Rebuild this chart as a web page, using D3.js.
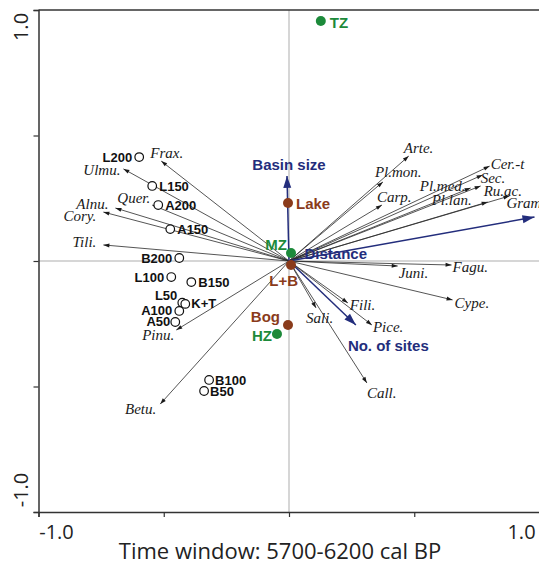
<!DOCTYPE html>
<html><head><meta charset="utf-8">
<script src="https://cdn.jsdelivr.net/npm/d3@7"></script>
<style>html,body{margin:0;padding:0;background:#fff;}</style>
</head><body>
<svg id="chart" width="539" height="564"></svg>
<script>
// ---- Data ----
const siteNames = ["L200","L150","A200","A150","B200","L100","B150","L50","K+T","A100","A50","B100","B50"];
const siteX = [-0.598,-0.546,-0.522,-0.474,-0.438,-0.470,-0.390,-0.426,-0.414,-0.438,-0.454,-0.319,-0.339];
const siteY = [0.414,0.299,0.223,0.127,0.012,-0.064,-0.084,-0.166,-0.171,-0.199,-0.243,-0.474,-0.518];

const speciesNames = ["Frax.","Ulmu.","Quer.","Alnu.","Cory.","Tili.","Pinu.","Betu.","Arte.","Pl.mon.","Carp.","Cer.-t","Sec.","Pl.med.","Ru.ac.","Pl.lan.","Gram.","Juni.","Fagu.","Cype.","Fili.","Pice.","Sali.","Call."];
const speciesX = [-0.510,-0.661,-0.546,-0.693,-0.741,-0.741,-0.450,-0.514,0.478,0.375,0.371,0.801,0.773,0.725,0.765,0.793,0.880,0.434,0.649,0.653,0.235,0.331,0.108,0.311];
const speciesY = [0.398,0.367,0.223,0.211,0.195,0.064,-0.275,-0.570,0.418,0.315,0.223,0.378,0.343,0.291,0.299,0.235,0.259,-0.020,-0.016,-0.155,-0.167,-0.255,-0.187,-0.486];

const envNames = ["Basin size","Distance","No. of sites"];
const envX = [-0.008,0.980,0.267];
const envY = [0.339,0.175,-0.255];

const factorNames = ["Lake","L+B","Bog","TZ","MZ","HZ"];
const factorGroup = ["type","type","type","zone","zone","zone"];
const factorX = [-0.004,0.008,-0.004,0.127,0.008,-0.048];
const factorY = [0.231,-0.016,-0.255,0.956,0.032,-0.291];

const tickValues = [-1,-0.5,0,0.5,1];
const tickLabels = {"-1":"-1.0","1":"1.0"};
const xTitle = "Time window: 5700-6200 cal BP";

// ---- Layout (positions/styles) ----
const siteLabelLayout = {"L200":[-7,5,"end"],"L150":[7,5,"start"],"A200":[7,5,"start"],"A150":[7,5,"start"],
  "B200":[-7,5,"end"],"L100":[-7,5,"end"],"B150":[7,5,"start"],"L50":[-5,-3,"end"],"K+T":[6,4,"start"],
  "A100":[-7,4,"end"],"A50":[-5,4,"end"],"B100":[6,5,"start"],"B50":[6,5,"start"]};
const speciesLabelLayout = {"Frax.":[-11,-3,"start"],"Ulmu.":[-3,6,"end"],"Quer.":[-2,-2,"end"],"Alnu.":[-7,1,"end"],
  "Cory.":[-7,9,"end"],"Tili.":[-7,2,"end"],"Pinu.":[-2,10,"end"],"Betu.":[-4,10,"end"],"Arte.":[-5,-3,"start"],
  "Pl.mon.":[-8,-5,"start"],"Carp.":[-5,-3,"start"],"Cer.-t":[1,3,"start"],"Sec.":[-2,8,"start"],"Pl.med.":[-5,3,"end"],
  "Ru.ac.":[3,10,"start"],"Pl.lan.":[-16,3,"end"],"Gram.":[-3,12,"start"],"Juni.":[1,12,"start"],"Fagu.":[1,7,"start"],
  "Cype.":[2,8,"start"],"Fili.":[2,7,"start"],"Pice.":[1,7,"start"],"Sali.":[-10,15,"start"],"Call.":[0,15,"start"]};
const envLabelLayout = {"Basin size":[2,-6,"middle"],"Distance":[-230,42,"start"],"No. of sites":[-8,26,"start"]};
const factorLabelLayout = {"Lake":[8,6,"start"],"L+B":[7,21,"end"],"Bog":[-8,-3,"end"],"TZ":[9,7,"start"],"MZ":[-4,-3,"end"],"HZ":[-5,7,"end"]};

const NAVY = "#232d7c", BROWN = "#8a3b1b", GREEN = "#1c8a3a";
const factorColor = {type: BROWN, zone: GREEN};

const svg = d3.select("#chart");
const x = d3.scaleLinear().domain([-1,1]).range([38.5,539.5]);
const y = d3.scaleLinear().domain([-1,1]).range([512,10]);

// zero lines
svg.append("line").attr("x1",x(0)).attr("x2",x(0)).attr("y1",y(1)).attr("y2",y(-1)).attr("stroke","#c8c8c8").attr("stroke-width",1.5);
svg.append("line").attr("x1",x(-1)).attr("x2",x(1)).attr("y1",y(0)).attr("y2",y(0)).attr("stroke","#c8c8c8").attr("stroke-width",1.5);

// axes
const xAxis = d3.axisBottom(x).tickValues(tickValues).tickSize(5).tickFormat("");
const yAxis = d3.axisLeft(y).tickValues(tickValues).tickSize(5).tickFormat("");
const gx = svg.append("g").attr("transform",`translate(0,${y(-1)})`).call(xAxis);
const gy = svg.append("g").attr("transform",`translate(${x(-1)},0)`).call(yAxis);
[gx,gy].forEach(g=>{g.select(".domain").attr("stroke","#333").attr("stroke-width",1.5);g.selectAll(".tick line").attr("stroke","#333").attr("stroke-width",1.2);});
svg.append("line").attr("x1",x(-1)).attr("x2",x(1)).attr("y1",y(1)).attr("y2",y(1)).attr("stroke","#333").attr("stroke-width",1.5);

const tickFont = "'Open Sans', 'DejaVu Sans', sans-serif";
svg.append("text").attr("x",x(-1)+18).attr("y",y(-1)+27).attr("text-anchor","middle").attr("font-family",tickFont).attr("font-size",20).attr("fill","#222").text(tickLabels["-1"]);
svg.append("text").attr("x",x(1)-18).attr("y",y(-1)+27).attr("text-anchor","middle").attr("font-family",tickFont).attr("font-size",20).attr("fill","#222").text(tickLabels["1"]);
svg.append("text").attr("transform",`translate(${x(-1)-11},${y(1)+17}) rotate(-90)`).attr("text-anchor","middle").attr("font-family",tickFont).attr("font-size",20).attr("fill","#222").text(tickLabels["1"]);
svg.append("text").attr("transform",`translate(${x(-1)-11},${y(-1)-22}) rotate(-90)`).attr("text-anchor","middle").attr("font-family",tickFont).attr("font-size",20).attr("fill","#222").text(tickLabels["-1"]);
svg.append("text").attr("x",280).attr("y",559).attr("text-anchor","middle").attr("font-family",tickFont).attr("font-size",22).attr("fill","#222").text(xTitle);

function arrowHead(x0,y0,x1,y1,len,w){
  const a = Math.atan2(y1-y0,x1-x0);
  const bx = x1-len*Math.cos(a), by = y1-len*Math.sin(a);
  const px = -Math.sin(a)*w/2, py = Math.cos(a)*w/2;
  return `M${x1},${y1}L${bx+px},${by+py}L${bx-px},${by-py}Z`;
}

// species arrows
const ox = x(0), oy = y(0);
const sp = svg.append("g");
speciesNames.forEach((n,i)=>{
  const tx = x(speciesX[i]), ty = y(speciesY[i]);
  sp.append("line").attr("x1",ox).attr("y1",oy).attr("x2",tx).attr("y2",ty).attr("stroke","#2a2a2a").attr("stroke-width",0.8);
  sp.append("path").attr("d",arrowHead(ox,oy,tx,ty,6,4)).attr("fill","#1a1a1a");
  const L = speciesLabelLayout[n];
  sp.append("text").attr("x",tx+L[0]).attr("y",ty+L[1]).attr("text-anchor",L[2])
    .attr("font-family","'Liberation Serif','Times New Roman',serif").attr("font-style","italic").attr("font-size",15).attr("fill","#1a1a1a").text(n);
});

// env arrows
const ev = svg.append("g");
envNames.forEach((n,i)=>{
  const tx = x(envX[i]), ty = y(envY[i]);
  ev.append("line").attr("x1",ox).attr("y1",oy).attr("x2",tx).attr("y2",ty).attr("stroke",NAVY).attr("stroke-width",1.5);
  ev.append("path").attr("d",arrowHead(ox,oy,tx,ty,12,8)).attr("fill",NAVY);
  const L = envLabelLayout[n];
  ev.append("text").attr("x",tx+L[0]).attr("y",ty+L[1]).attr("text-anchor",L[2])
    .attr("font-family","'Liberation Sans',Arial,sans-serif").attr("font-weight","bold").attr("font-size",15).attr("fill",NAVY).text(n);
});

// sites
const st = svg.append("g");
siteNames.forEach((n,i)=>{
  const cx = x(siteX[i]), cy = y(siteY[i]);
  st.append("circle").attr("cx",cx).attr("cy",cy).attr("r",4.3).attr("fill","#fff").attr("stroke","#111").attr("stroke-width",1.2);
  const L = siteLabelLayout[n];
  st.append("text").attr("x",cx+L[0]).attr("y",cy+L[1]).attr("text-anchor",L[2])
    .attr("font-family","'Liberation Sans',Arial,sans-serif").attr("font-weight","bold").attr("font-size",13).attr("fill","#111").text(n);
});

// factor centroids
const fc = svg.append("g");
factorNames.forEach((n,i)=>{
  const cx = x(factorX[i]), cy = y(factorY[i]);
  const col = factorColor[factorGroup[i]];
  fc.append("circle").attr("cx",cx).attr("cy",cy).attr("r",5).attr("fill",col);
  const L = factorLabelLayout[n];
  fc.append("text").attr("x",cx+L[0]).attr("y",cy+L[1]).attr("text-anchor",L[2])
    .attr("font-family","'Liberation Sans',Arial,sans-serif").attr("font-weight","bold").attr("font-size",15).attr("fill",col).text(n);
});
</script>
</body></html>
